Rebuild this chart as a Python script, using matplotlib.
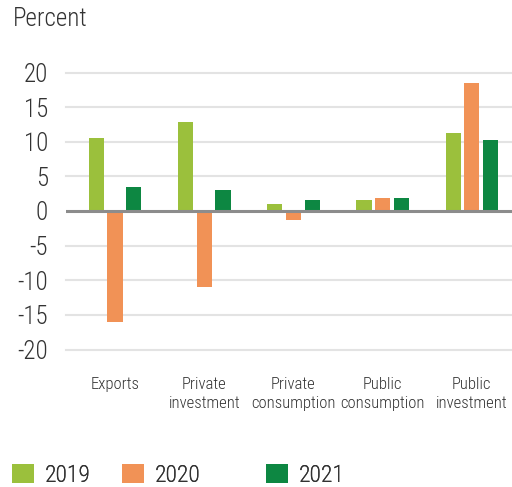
import matplotlib
matplotlib.use("Agg")
import matplotlib.pyplot as plt
from matplotlib import font_manager
import numpy as np

# Data
categories = ["Exports", "Private\ninvestment", "Private\nconsumption",
              "Public\nconsumption", "Public\ninvestment"]
years = ["2019", "2020", "2021"]
values_2019 = [10.5, 12.8, 1.0, 1.6, 11.3]
values_2020 = [-16.0, -11.0, -1.3, 1.9, 18.5]
values_2021 = [3.5, 3.0, 1.6, 1.9, 10.2]
yticks = [20, 15, 10, 5, 0, -5, -10, -15, -20]

colors = ["#9bc03c", "#f19256", "#0d8742"]
text_color = "#333333"

# Pick a narrow sans family if one is installed
names = {f.name for f in font_manager.fontManager.ttflist}
family = "Roboto"
for cand in ["Roboto Condensed", "Liberation Sans Narrow"]:
    if cand in names:
        family = cand
        break
plt.rcParams["font.family"] = [family, "DejaVu Sans"]
plt.rcParams["font.weight"] = "light"

W, H = 512, 487
fig = plt.figure(figsize=(W / 100, H / 100), dpi=100)
ax = fig.add_axes([66 / W, 137.5 / H, 446 / W, 277 / H])

x = np.arange(len(categories))
offset = 0.21
width = 0.17
series = [values_2019, values_2020, values_2021]
bars = []
for i, (vals, c) in enumerate(zip(series, colors)):
    b = ax.bar(x + (i - 1) * offset, vals, width=width, color=c, zorder=3)
    bars.append(b)

ax.set_xlim(-0.55, 4.45)
ax.set_ylim(-20, 20)
ax.set_yticks(yticks)
ax.set_yticklabels([str(t) for t in yticks])
ax.set_xticks(x)
ax.set_xticklabels(categories, linespacing=1.3)

for t in yticks:
    if t == 0:
        continue
    ax.axhline(t, color="#e3e3e3", lw=1.5, zorder=1, clip_on=False)
ax.axhline(0, color="#8c8c8c", lw=2.2, zorder=4)

for s in ax.spines.values():
    s.set_visible(False)
ax.tick_params(axis="y", length=0, pad=13, labelsize=18, labelcolor=text_color)
ax.tick_params(axis="x", length=0, pad=20, labelsize=12, labelcolor=text_color)

fig.text(13 / W, 1 - 7 / H, "Percent", ha="left", va="top",
         fontsize=18, color=text_color)

# Legend: one entry per year, each placed on its own
legend_x = [12, 122, 266]
for b, yr, lx in zip(bars, years, legend_x):
    leg = fig.legend([b], [yr], loc="upper left",
                     bbox_to_anchor=(lx / W, 1 - 464 / H),
                     frameon=False, fontsize=17, borderpad=0, borderaxespad=0,
                     handlelength=0.93, handleheight=0.88, handletextpad=0.45,
                     labelcolor=text_color)
    fig.add_artist(leg)

fig.savefig("out.png", dpi=100)
